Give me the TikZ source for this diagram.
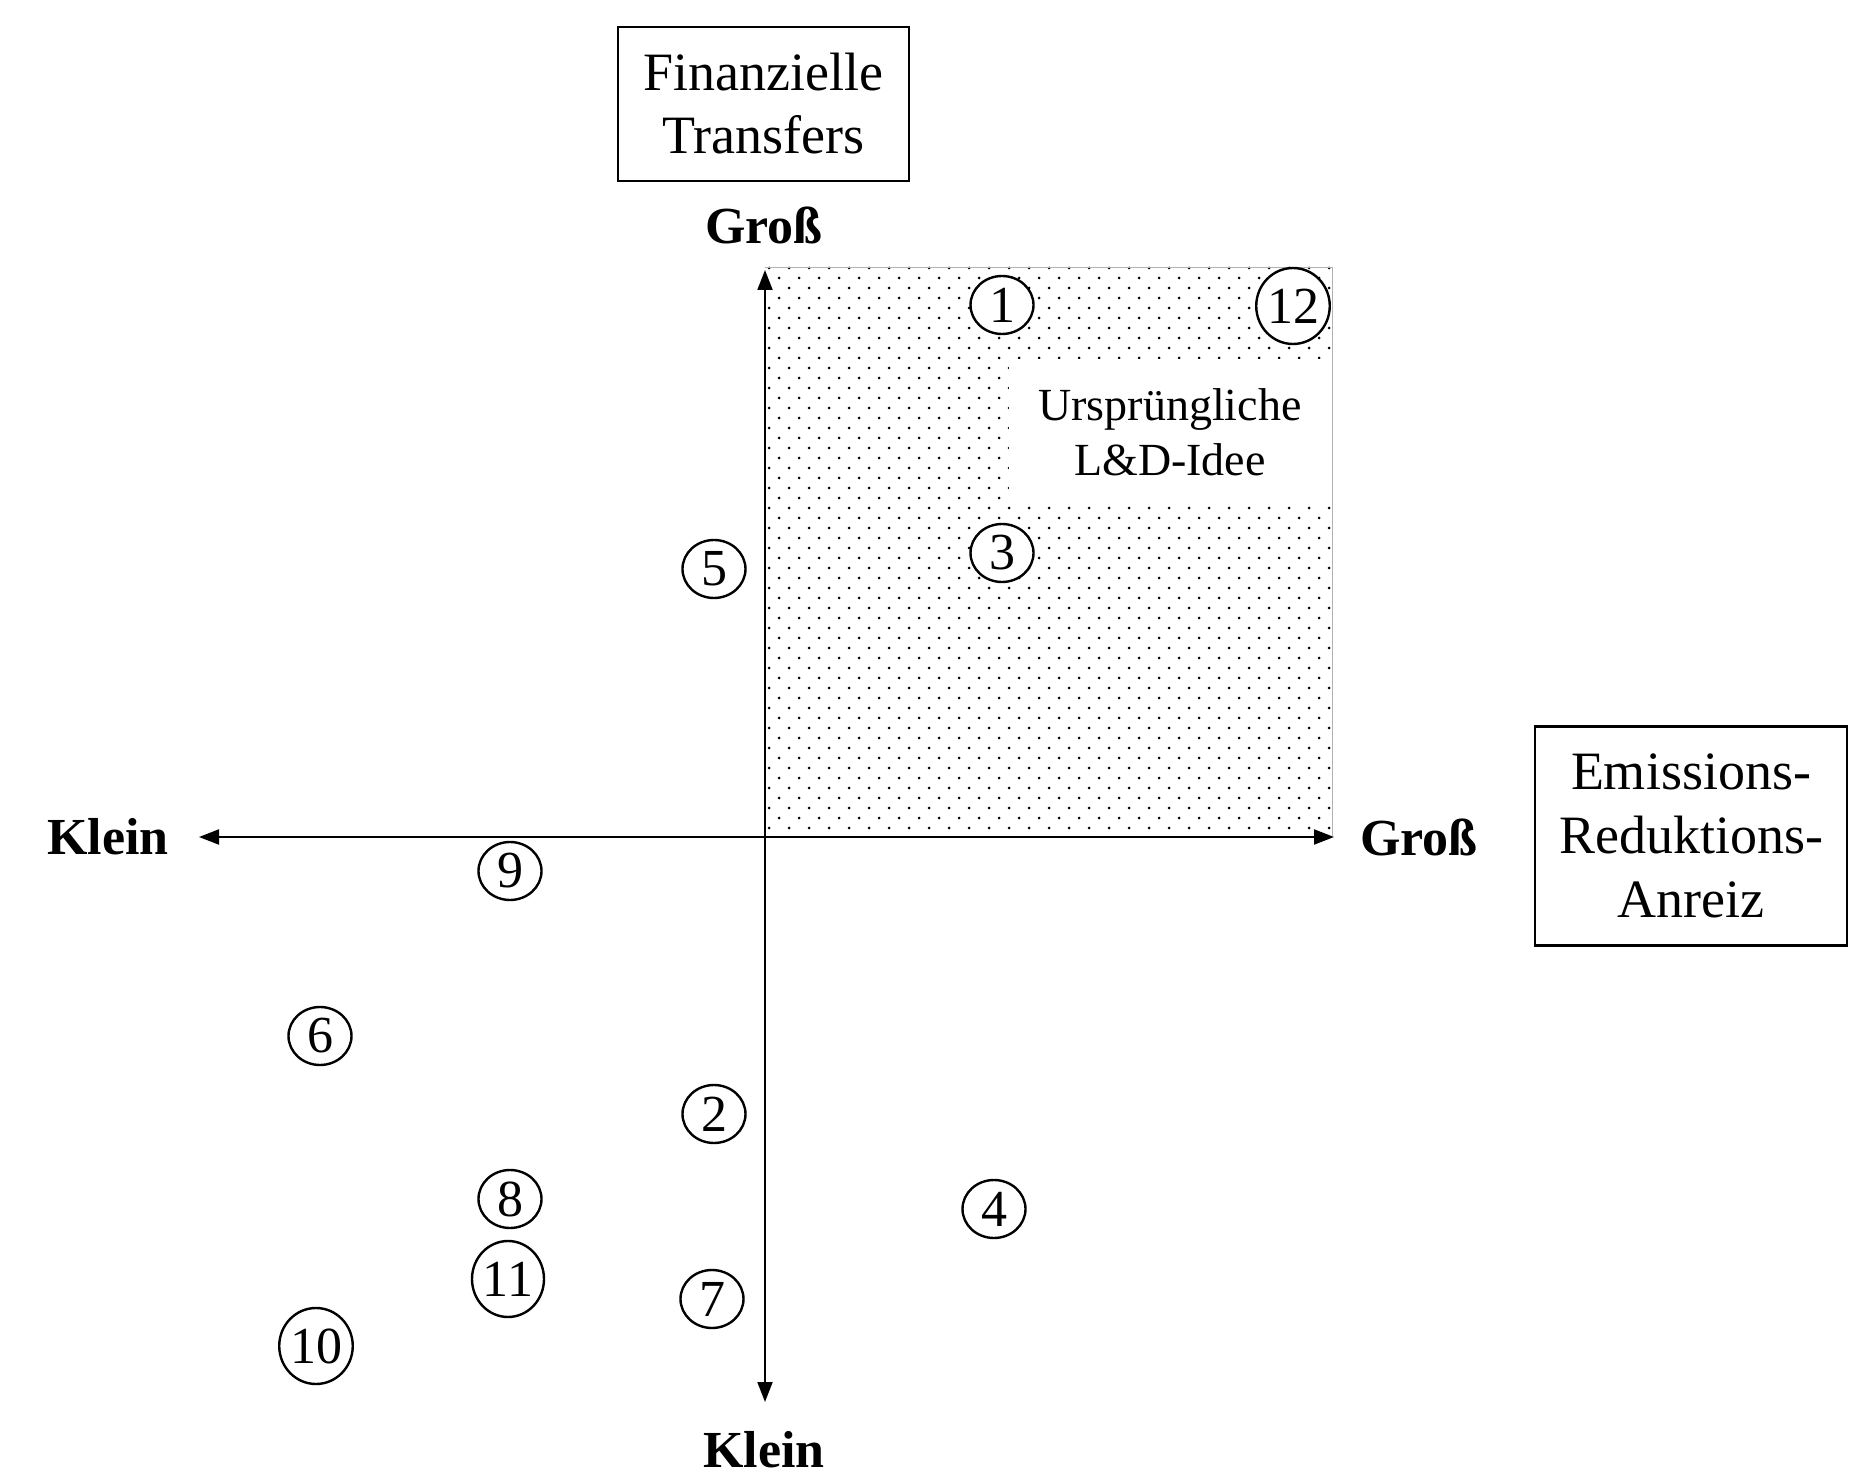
\documentclass[tikz,border=0pt]{standalone}
\usepackage{fontspec}
\setmainfont{Liberation Serif}
\usetikzlibrary{shapes.geometric,arrows.meta}
\begin{document}
\begin{tikzpicture}[x=0.5pt,y=-0.5pt,
  axlbl/.style={font=\fontsize{26}{30}\selectfont\bfseries},
  titlebox/.style={draw, line width=1.3pt, align=center, inner sep=0pt},
  num/.style={ellipse, draw, line width=1.2pt, fill=white, inner sep=0pt, minimum width=31.5pt, minimum height=29pt, font=\fontsize{26}{26}\selectfont},
  numw/.style={num, minimum width=36pt, minimum height=38pt},
  axis/.style={line width=1pt, {Triangle[length=10pt,width=7.5pt]}-{Triangle[length=10pt,width=7.5pt]}}
]
\useasboundingbox (0,0) rectangle (1860,1476);
% dotted region
\begin{scope}
\clip (765,267) rectangle (1332,836);
\foreach \r in {0,...,56}{
  \pgfmathtruncatemacro\yy{268+10*\r}
  \pgfmathtruncatemacro\xo{769+mod(\r,2)*10}
  \foreach \c in {0,...,28}{
    \fill (\xo+20*\c,\yy) circle[radius=1.5];
  }
}
\end{scope}
\node[fill=white, inner sep=0pt, minimum width=161.5pt, minimum height=72.5pt, align=center, font=\fontsize{23}{27.5}\selectfont] (idee) at (1170,432) {Ursprüngliche\\L\&D-Idee};
\draw[gray!60, line width=0.4pt] (765,267) -- (1332,267) -- (1332,836);
% axes
\coordinate (o) at (765,837);
\coordinate (ytop) at (765,270);
\coordinate (ybot) at (765,1402);
\coordinate (xl) at (199,837);
\coordinate (xr) at (1334,837);
\draw[axis] (ybot) -- (ytop);
\draw[axis] (xl) -- (xr);
% axis labels
\node[axlbl] (gt) at (764,225) {Groß};
\node[axlbl] (gr) at (1419,837) {Groß};
\node[axlbl] (kl) at (108,837) {Klein};
\node[axlbl] (kb) at (764,1450) {Klein};
% title boxes
\node[titlebox, minimum width=145.5pt, minimum height=77pt, font=\fontsize{27}{31.5}\selectfont] (fin) at (763.5,104) {Finanzielle\\Transfers};
\node[titlebox, minimum width=156pt, minimum height=109.5pt, font=\fontsize{27}{32}\selectfont] (emi) at (1691,836) {Emissions-\\Reduktions-\\Anreiz};
% numbered items
\node[num] (n1) at (1002,305) {1};
\node[numw] (n12) at (1293,306) {12};
\node[num] (n3) at (1002,553) {3};
\node[num] (n5) at (714,569) {5};
\node[num] (n9) at (510,871) {9};
\node[num] (n6) at (320,1036) {6};
\node[num] (n2) at (714,1114) {2};
\node[num] (n8) at (510,1199) {8};
\node[num] (n4) at (994,1209) {4};
\node[numw] (n11) at (508,1279) {11};
\node[num] (n7) at (712,1299) {7};
\node[numw] (n10) at (316,1346) {10};
\end{tikzpicture}
\end{document}
